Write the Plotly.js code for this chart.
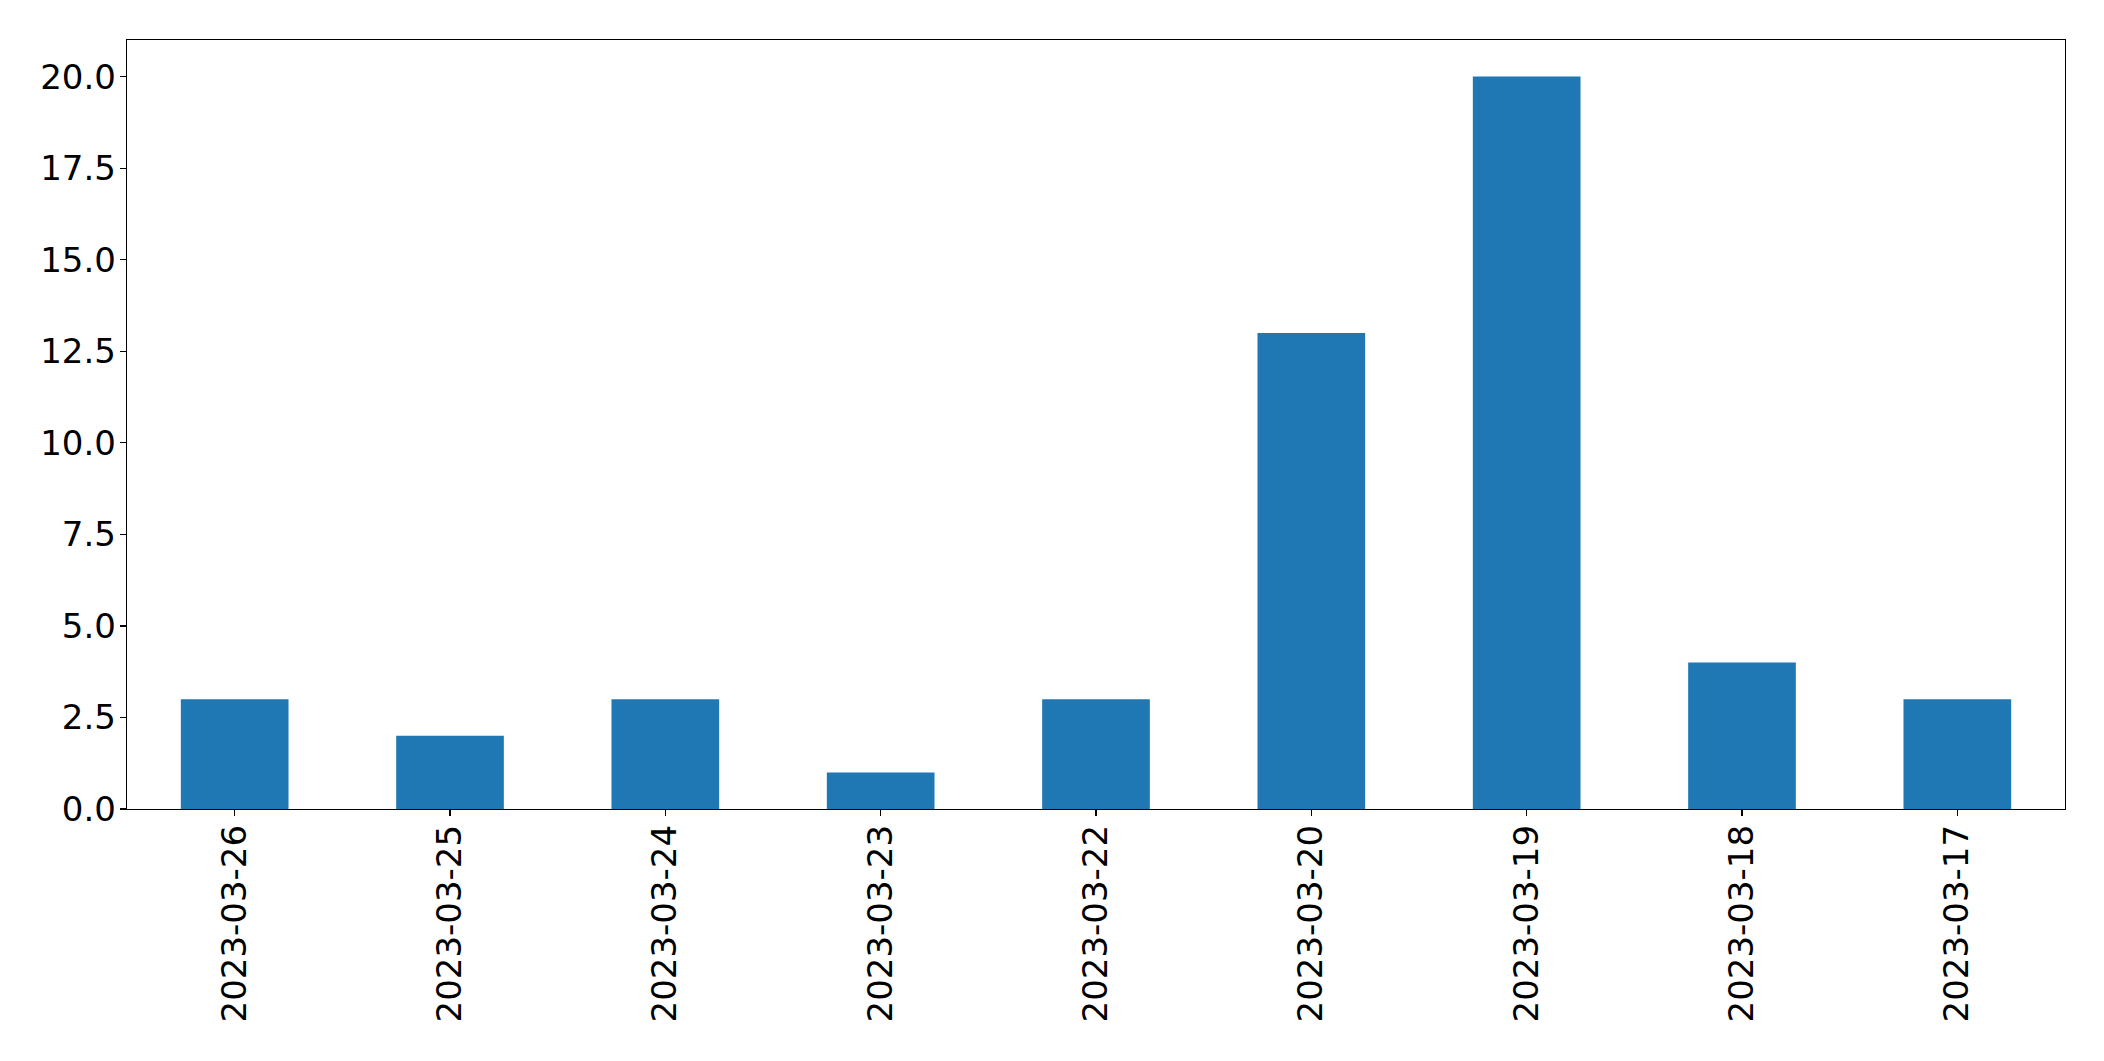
<!DOCTYPE html>
<html>
<head>
<meta charset="utf-8">
<script src="https://cdn.plot.ly/plotly-3.0.1.min.js"></script>
<style>html,body{margin:0;padding:0;background:#fff;}#chart{width:2104px;height:1061px;}</style>
</head>
<body>
<div id="chart"></div>
<script>
const categories = ["2023-03-26","2023-03-25","2023-03-24","2023-03-23","2023-03-22","2023-03-20","2023-03-19","2023-03-18","2023-03-17"];
const values = [3, 2, 3, 1, 3, 13, 20, 4, 3];
const yTicks = [0, 2.5, 5, 7.5, 10, 12.5, 15, 17.5, 20];
const yTickLabels = ["0.0","2.5","5.0","7.5","10.0","12.5","15.0","17.5","20.0"];

const trace = {
  type: 'bar',
  x: categories,
  y: values,
  width: 0.5,
  marker: {color: '#1f77b4', line: {width: 0}},
  hoverinfo: 'x+y'
};
const layout = {
  width: 2104, height: 1061,
  margin: {l: 127, r: 39, t: 40, b: 252, pad: 0},
  paper_bgcolor: '#fff', plot_bgcolor: '#fff',
  showlegend: false,
  font: {family: 'DejaVu Sans', size: 34, color: '#000'},
  xaxis: {
    type: 'category',
    range: [-0.5, 8.5],
    tickangle: -90,
    ticks: 'outside', ticklen: 6, tickwidth: 1.3, tickcolor: '#000',
    ticklabelstandoff: -5,
    showline: true, mirror: true, linecolor: '#000', linewidth: 1.3,
    showgrid: false, zeroline: false,
    tickfont: {family: 'DejaVu Sans', size: 34, color: '#000'},
    automargin: false
  },
  yaxis: {
    range: [0, 21],
    tickvals: yTicks, ticktext: yTickLabels,
    ticks: 'outside', ticklen: 6, tickwidth: 1.3, tickcolor: '#000',
    ticklabelstandoff: -3,
    showline: true, mirror: true, linecolor: '#000', linewidth: 1.3,
    showgrid: false, zeroline: false,
    tickfont: {family: 'DejaVu Sans', size: 34, color: '#000'},
    automargin: false
  }
};
Plotly.newPlot('chart', [trace], layout, {displayModeBar: false, staticPlot: true});
</script>
</body>
</html>
